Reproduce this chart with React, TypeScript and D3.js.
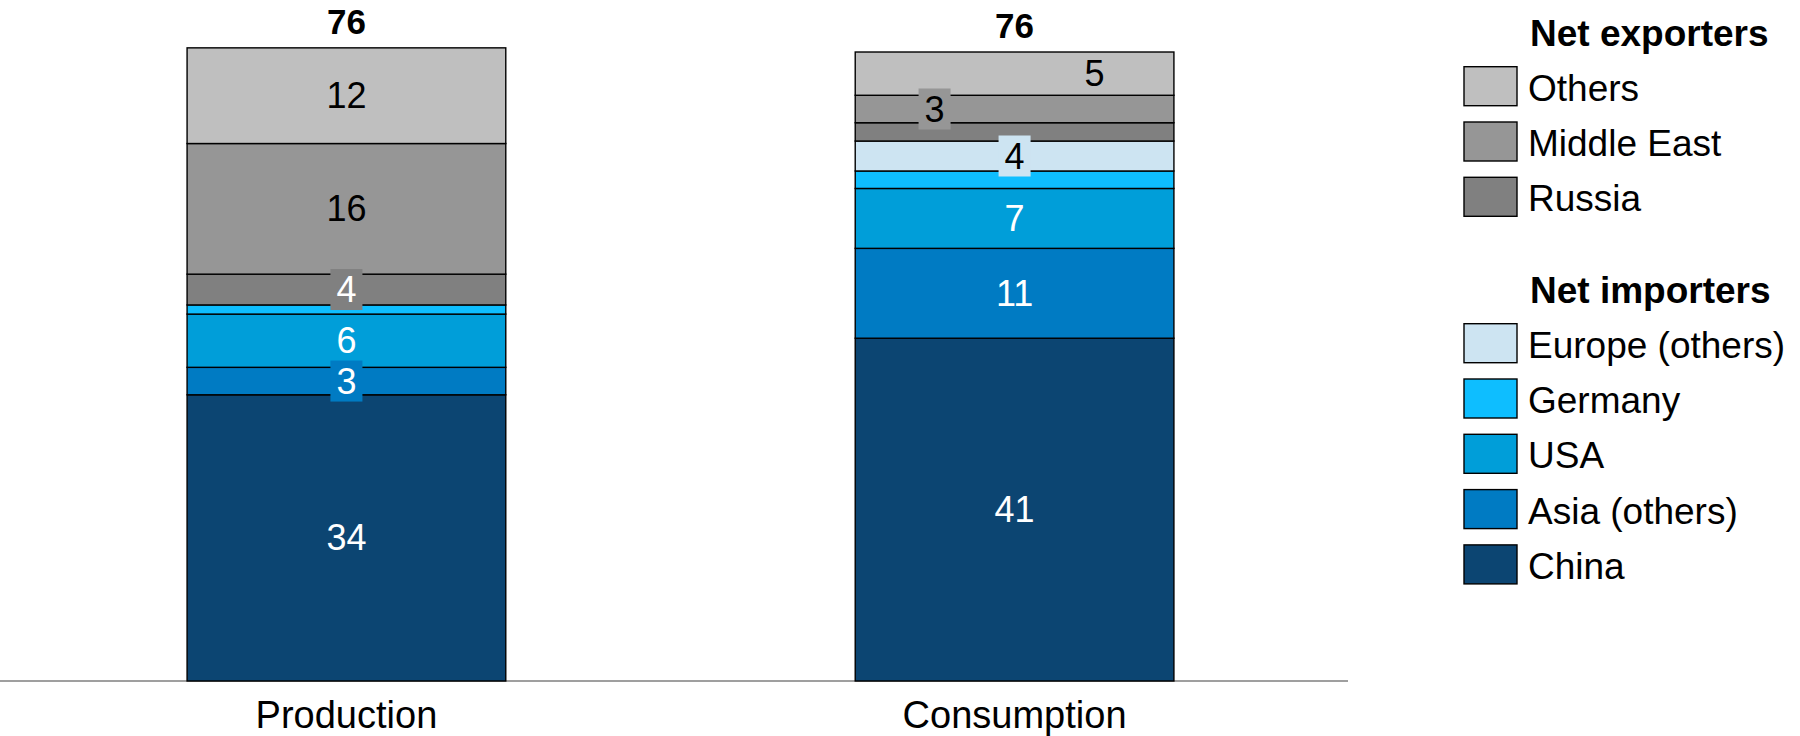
import React from 'react'
import * as d3 from 'd3'

// categories on the x axis
const categories = ['Production', 'Consumption']

// series, bottom to top of each stack
const seriesNames = [
  'China',
  'Asia (others)',
  'USA',
  'Germany',
  'Europe (others)',
  'Russia',
  'Middle East',
  'Others',
]

// values per category (Production, Consumption)
const china = [34.4, 41.2]
const asiaOthers = [3.3, 10.8]
const usa = [6.4, 7.2]
const germany = [1.1, 2.1]
const europeOthers = [0, 3.6]
const russia = [3.7, 2.2]
const middleEast = [15.7, 3.3]
const others = [11.5, 5.2]

const seriesValues = [china, asiaOthers, usa, germany, europeOthers, russia, middleEast, others]

const colors: Record<string, string> = {
  China: '#0c4572',
  'Asia (others)': '#007bc3',
  USA: '#009ed9',
  Germany: '#0ebeff',
  'Europe (others)': '#cde4f2',
  Russia: '#808080',
  'Middle East': '#969696',
  Others: '#bfbfbf',
}

// which segment labels are drawn, and how
type LabelStyle = { show: boolean; dx?: number; box?: boolean; color: string }
const labelStyles: Record<string, LabelStyle[]> = {
  China: [{ show: true, color: '#fff' }, { show: true, color: '#fff' }],
  'Asia (others)': [{ show: true, box: true, color: '#fff' }, { show: true, color: '#fff' }],
  USA: [{ show: true, color: '#fff' }, { show: true, color: '#fff' }],
  Germany: [{ show: false, color: '#fff' }, { show: false, color: '#fff' }],
  'Europe (others)': [{ show: false, color: '#000' }, { show: true, box: true, color: '#000' }],
  Russia: [{ show: true, box: true, color: '#fff' }, { show: false, color: '#000' }],
  'Middle East': [{ show: true, color: '#000' }, { show: true, box: true, dx: -80, color: '#000' }],
  Others: [{ show: true, color: '#000' }, { show: true, dx: 80, color: '#000' }],
}

const legendGroups = [
  { title: 'Net exporters', items: ['Others', 'Middle East', 'Russia'] },
  { title: 'Net importers', items: ['Europe (others)', 'Germany', 'USA', 'Asia (others)', 'China'] },
]

const font = '"Liberation Sans", Arial, sans-serif'

export default function App() {
  const width = 1800
  const height = 736
  const baseY = 681

  const rows = categories.map((c, i) => {
    const row: Record<string, number | string> = { category: c }
    seriesNames.forEach((s, j) => (row[s] = seriesValues[j][i]))
    return row
  })

  const stacked = d3.stack<Record<string, number | string>>().keys(seriesNames)(rows as any)

  const x = d3.scaleBand<string>().domain(categories).range([0, 1361]).paddingInner(0.523).paddingOuter(0.28)
  const y = d3.scaleLinear().domain([0, 76]).range([baseY, baseY - 76 * 8.32])

  const totals = categories.map((_, i) => d3.sum(seriesValues, (v) => v[i]))

  return (
    <svg
      width={width}
      height={height}
      style={{ position: 'absolute', left: 0, top: 0, background: '#fff' }}
      fontFamily={font}
    >
      <line x1={0} x2={1348} y1={baseY} y2={baseY} stroke="#7f7f7f" strokeWidth={1.5} />
      {stacked.map((layer) => (
        <g key={layer.key}>
          {layer.map((d, i) => {
            const h = y(d[0]) - y(d[1])
            if (h <= 0) return null
            return (
              <rect
                key={i}
                x={x(categories[i])}
                y={y(d[1])}
                width={x.bandwidth()}
                height={h}
                fill={colors[layer.key]}
                stroke="#000"
                strokeWidth={1.4}
              />
            )
          })}
        </g>
      ))}
      {stacked.map((layer) => (
        <g key={'l' + layer.key}>
          {layer.map((d, i) => {
            const st = labelStyles[layer.key][i]
            if (!st.show) return null
            const cx = (x(categories[i]) as number) + x.bandwidth() / 2 + (st.dx || 0)
            const cy = (y(d[0]) + y(d[1])) / 2
            const label = String(Math.round(d[1] - d[0]))
            return (
              <g key={i}>
                {st.box && (
                  <rect x={cx - 16} y={cy - 20.5} width={32} height={41} fill={colors[layer.key]} />
                )}
                <text
                  x={cx}
                  y={cy}
                  textAnchor="middle"
                  dominantBaseline="central"
                  fontSize={36}
                  fill={st.color}
                >
                  {label}
                </text>
              </g>
            )
          })}
        </g>
      ))}
      {categories.map((c, i) => (
        <g key={'t' + c}>
          <text
            x={(x(c) as number) + x.bandwidth() / 2}
            y={y(totals[i]) - 14}
            textAnchor="middle"
            fontSize={35}
            fontWeight="bold"
          >
            {Math.round(totals[i])}
          </text>
          <text x={(x(c) as number) + x.bandwidth() / 2} y={728} textAnchor="middle" fontSize={38}>
            {c}
          </text>
        </g>
      ))}
      {legendGroups.map((g, gi) => {
        const top = gi === 0 ? 0 : 257
        return (
          <g key={g.title} transform={`translate(0,${top})`}>
            <text x={1530} y={46} fontSize={37} fontWeight="bold">
              {g.title}
            </text>
            {g.items.map((it, k) => (
              <g key={it} transform={`translate(0,${66.7 + k * 55.3})`}>
                <rect x={1464} y={0} width={53} height={39} fill={colors[it]} stroke="#000" strokeWidth={1.4} />
                <text x={1528} y={21.5} dominantBaseline="central" fontSize={37}>
                  {it}
                </text>
              </g>
            ))}
          </g>
        )
      })}
    </svg>
  )
}
